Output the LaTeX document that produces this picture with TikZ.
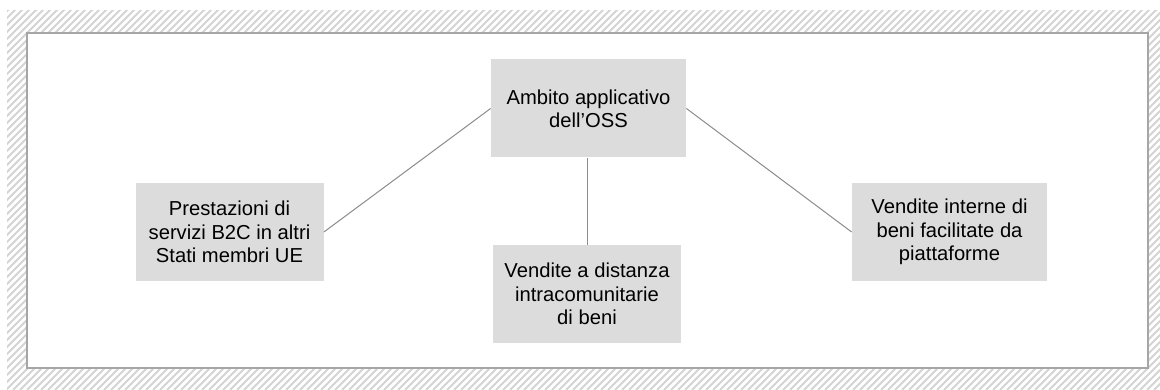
\documentclass[tikz,border=0pt]{standalone}
\usepackage{fontspec}
\setmainfont{Liberation Sans}
\usetikzlibrary{positioning, calc}
\definecolor{BoxFill}{RGB}{220, 220, 220}
\definecolor{Frame}{RGB}{166, 166, 166}
\definecolor{Link}{RGB}{140, 140, 140}
\definecolor{Hatch}{RGB}{212, 212, 212}

\begin{document}
\begin{tikzpicture}[x=0.5pt, y=0.5pt,
        ossbox/.style={fill=BoxFill, draw=none, align=center, inner sep=0pt,
            minimum height=49pt, font=\fontsize{10.1}{11.7}\selectfont},
        widebox/.style={ossbox, minimum width=97.5pt},
        narrowbox/.style={ossbox, minimum width=94pt},
        link/.style={draw=Link, line width=0.5pt}]
        \useasboundingbox (0, 0) rectangle (1160, 390);

        % Hatched background
        \begin{scope}
            \clip (7, 0) rectangle (1160, 379);
            \foreach \i in {-400, -393, ..., 1160}
                \draw[Hatch, line width=1pt] (\i, 0) -- ++(390, 390);
        \end{scope}

        % Frame
        \draw[fill=white, draw=Frame, line width=0.75pt] (27, 22) rectangle (1148, 357);

        % Scope
        \node[widebox] (scope) at (588.5, 281.5) {Ambito applicativo\\dell’OSS};

        % Cases
        \node[narrowbox] (services) at (229.5, 158) {Prestazioni di\\servizi B2C in altri\\Stati membri UE};
        \node[narrowbox] (distance) at (587, 96) {Vendite a distanza\\intracomunitarie\\di beni};
        \node[widebox] (platforms) at (949.5, 158) {Vendite interne di\\beni facilitate da\\piattaforme};

        % Links
        \draw[link] (services.east) -- (scope.west);
        \draw[link] (distance.north) -- (distance.north |- scope.south);
        \draw[link] (scope.east) -- (platforms.west);
    \end{tikzpicture}
\end{document}
